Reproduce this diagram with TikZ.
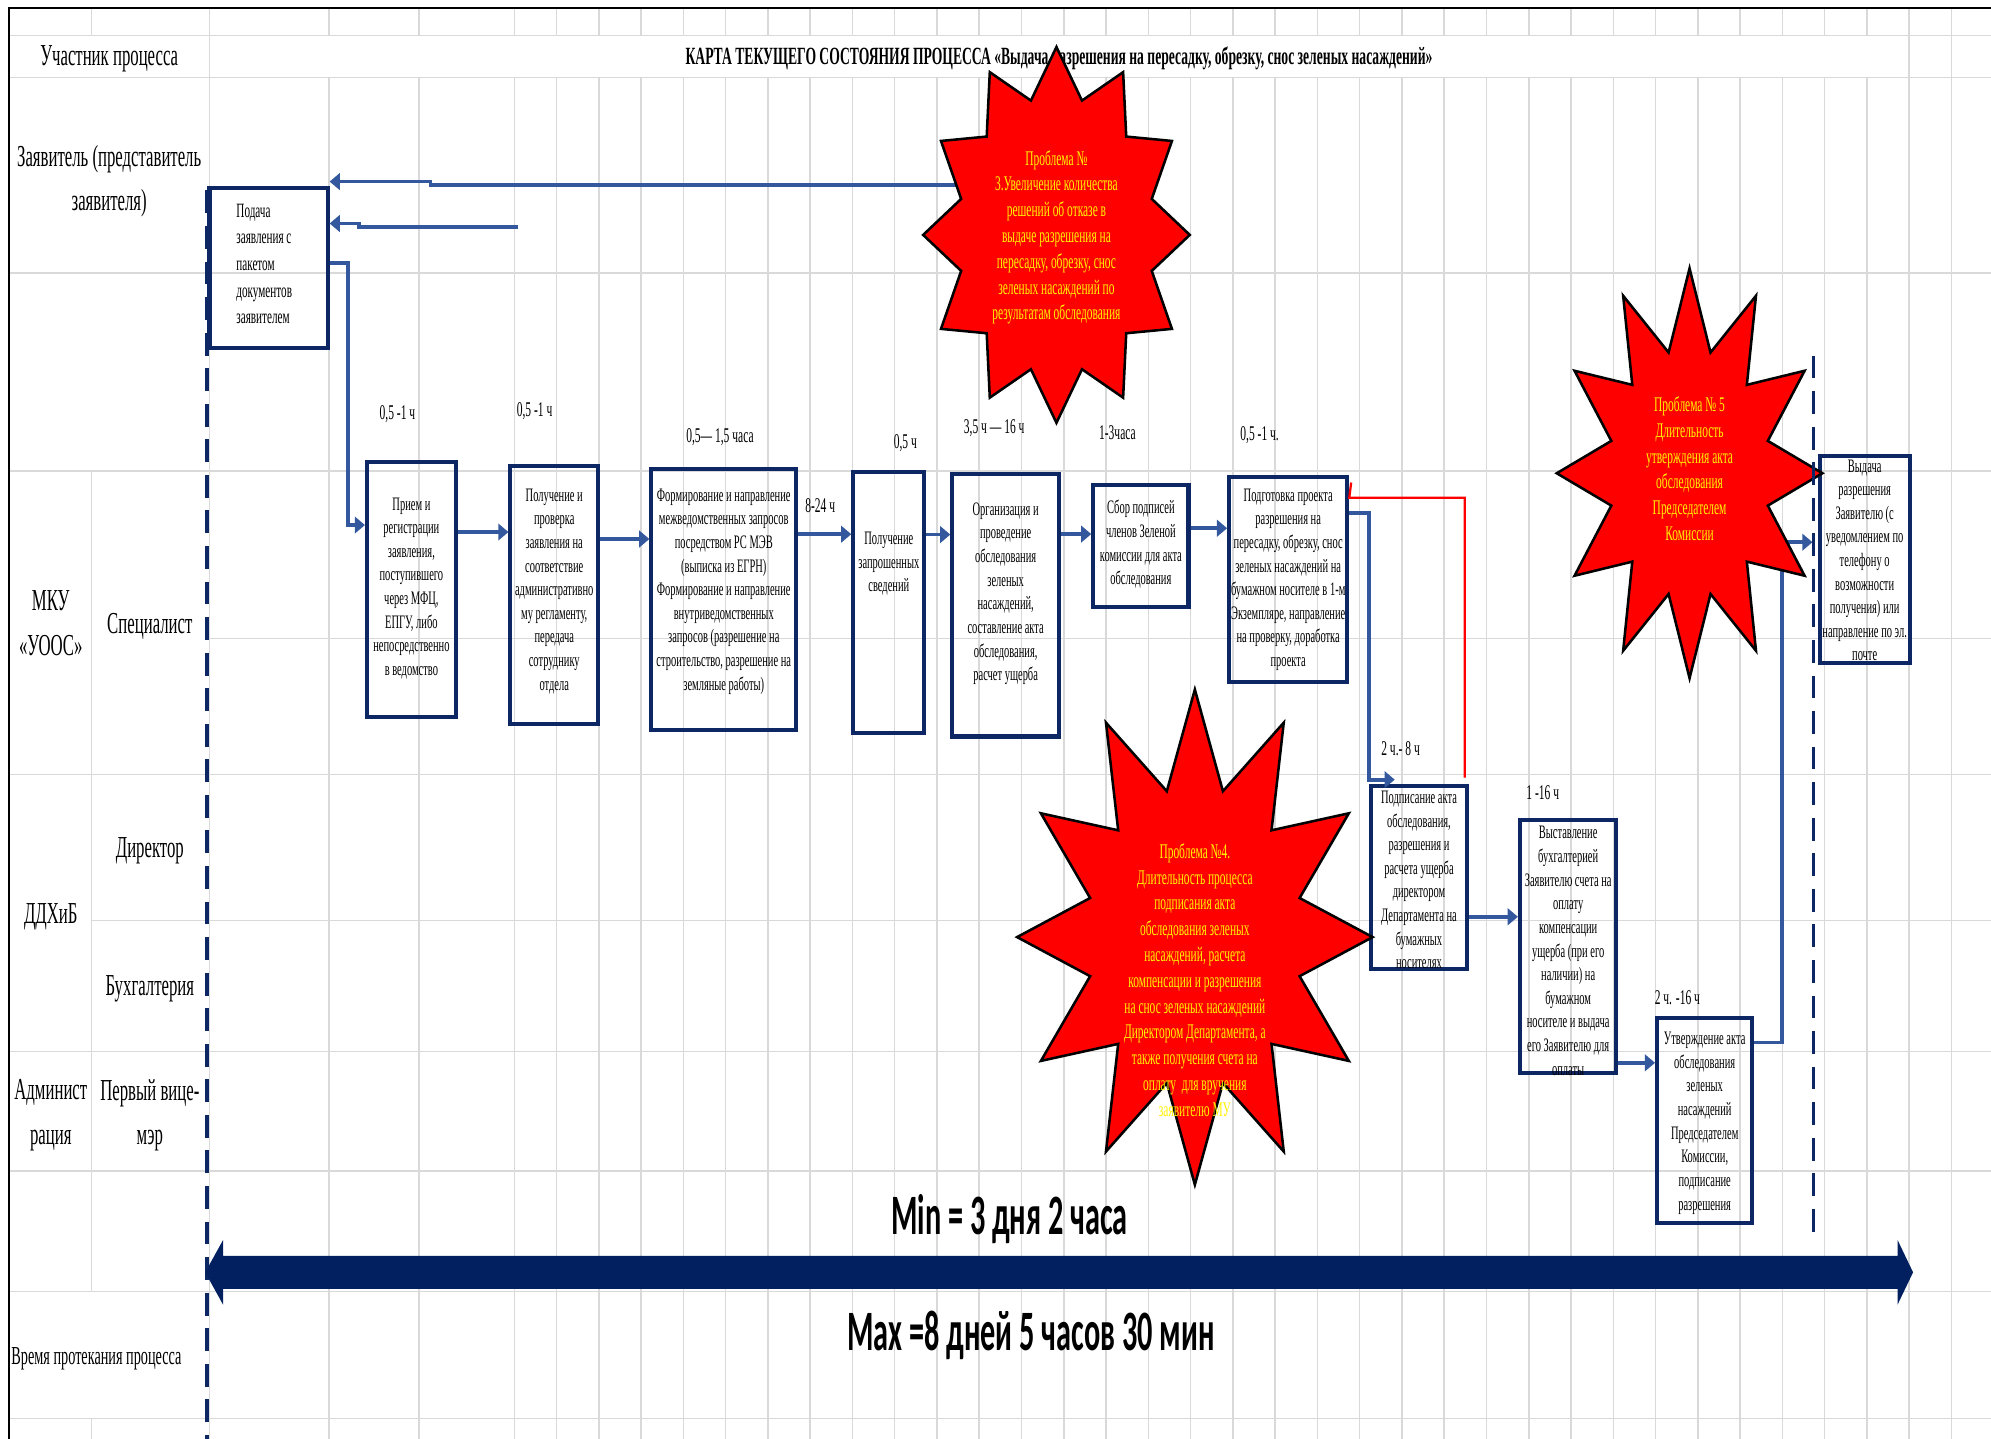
\documentclass[tikz,border=0pt]{standalone}
\usepackage{fontspec}
\setmainfont{Liberation Serif}
\newfontfamily\cnd[FakeStretch=0.55]{Liberation Serif}
\newfontfamily\mmf[FakeStretch=0.53]{Carlito}
\usetikzlibrary{arrows.meta}
\definecolor{gridc}{RGB}{217,217,217}
\definecolor{boxc}{RGB}{13,38,100}
\definecolor{arrc}{RGB}{52,88,158}
\definecolor{bigc}{RGB}{2,32,96}
\newcommand\burst[5]{%
  \draw[starst] plot[samples at={0,...,23}, variable=\k]
    ({#1+ifthenelse(mod(\k,2)==0,1,#5)*#3*sin(\k*15)},
     {#2-ifthenelse(mod(\k,2)==0,1,#5)*#4*cos(\k*15)}) -- cycle;}
\begin{document}
\begin{tikzpicture}[x=1pt,y=-1pt,
  gridl/.style={draw=gridc, line width=1.2pt},
  pbox/.style={draw=boxc, line width=3.2pt, inner sep=0pt},
  btxt/.style={font=\cnd\fontsize{15}{18.6}\selectfont, align=center, inner sep=0pt, anchor=north,
     execute at begin node={\rule{0pt}{0.75em}}},
  stxt/.style={font=\cnd\fontsize{16.4}{20.3}\selectfont, text=yellow, align=center, inner sep=0pt, anchor=north,
     execute at begin node={\rule{0pt}{0.75em}}},
  lbl/.style={font=\cnd\fontsize{16.5}{18}\selectfont, inner sep=0pt},
  hd/.style={font=\cnd\fontsize{24}{35}\selectfont, align=center, inner sep=0pt},
  hdn/.style={hd, anchor=north, execute at begin node={\rule{0pt}{0.75em}}},
  conn/.style={draw=arrc, line width=3pt, line join=miter, -{Triangle[length=8pt,width=13pt]}},
  fbk/.style={draw=red, line width=1.8pt},
  dsh/.style={draw=boxc, line width=2.5pt, dash pattern=on 18pt off 10pt},
  starst/.style={fill=red, draw=black, line width=2pt, line join=miter},
  mm/.style={font=\mmf\bfseries\fontsize{45}{50}\selectfont, inner sep=0pt}
]
\useasboundingbox (0,0) rectangle (1568,1133);
\fill[white] (0,0) rectangle (1568,1133);
% ---------- grid ----------
\foreach \x in {259,330} {
  \draw[gridl] (\x,6) -- (\x,28); \draw[gridl] (\x,61) -- (\x,1133);}
\foreach \k in {0,...,32} {
  \draw[gridl] ({405+\k*33.29},6) -- ({405+\k*33.29},28);
  \draw[gridl] ({405+\k*33.29},61) -- ({405+\k*33.29},1133);}
\foreach \x in {165,1503.6,1536.9} {\draw[gridl] (\x,6) -- (\x,1133);}
\draw[gridl] (72,6) -- (72,28);
\draw[gridl] (72,371) -- (72,1017);
\draw[gridl] (72,1117) -- (72,1133);
\foreach \y in {28,61,215,371,610,828,922,1017,1117} {\draw[gridl] (7,\y) -- (1568,\y);}
\draw[gridl] (165,503) -- (1568,503);
\draw[gridl] (72,725) -- (1568,725);
\draw[black, line width=1.5pt] (7,1133) -- (7,6) -- (1568,6);
% ---------- header texts ----------
\node[hd] (h0) at (86,46) {Участник процесса};
\node[font=\cnd\bfseries\fontsize{19.5}{22}\selectfont, inner sep=0pt] (title) at (834,46)
  {КАРТА ТЕКУЩЕГО СОСТОЯНИЯ ПРОЦЕССА «Выдача разрешения на пересадку, обрезку, снос зеленых насаждений»};
\node[hdn] (h1) at (86,114) {Заявитель (представитель\\заявителя)};
\node[hdn] (h2) at (40,465) {МКУ\\«УООС»};
\node[hd] (h3) at (118,493) {Специалист};
\node[hd] (h4) at (118,670) {Директор};
\node[hd] (h5) at (118,779) {Бухгалтерия};
\node[hd] (h6) at (40,722) {ДДХиБ};
\node[hdn] (h7) at (40,850) {Админист\\рация};
\node[hdn] (h8) at (118,850) {Первый вице-\\мэр};
\node[font=\cnd\fontsize{20.4}{22}\selectfont, inner sep=0pt] (h9) at (76,1070) {Время протекания процесса};
% ---------- boxes ----------
\node[pbox, minimum width=93pt, minimum height=126pt] (b1) at (211.5,211) {};
\node[pbox, minimum width=70pt, minimum height=201pt] (b2) at (324,464.5) {};
\node[pbox, minimum width=69pt, minimum height=203pt] (b3) at (436.5,468.5) {};
\node[pbox, minimum width=114pt, minimum height=206pt] (b4) at (570,472) {};
\node[pbox, minimum width=56pt, minimum height=205pt] (b5) at (700,474.5) {};
\node[pbox, minimum width=84pt, minimum height=207pt] (b6) at (792,476.5) {};
\node[pbox, minimum width=75pt, minimum height=96pt] (b7) at (898.5,430) {};
\node[pbox, minimum width=93pt, minimum height=161pt] (b8) at (1014.5,456.5) {};
\node[pbox, minimum width=75pt, minimum height=144pt] (b9) at (1117.5,691) {};
\node[pbox, minimum width=76pt, minimum height=199pt] (b10) at (1235,745.5) {};
\node[pbox, minimum width=75pt, minimum height=161pt] (b11) at (1342.5,882.5) {};
\node[pbox, minimum width=71pt, minimum height=163pt] (b12) at (1468.5,440.5) {};
% ---------- box texts ----------
\node[btxt, font=\cnd\fontsize{16}{21}\selectfont, align=left, anchor=north west] (t1) at (186,160.3)
  {Подача\\заявления с\\пакетом\\документов\\заявителем};
\node[btxt] (t2) at (324,391.7) {Прием и\\регистрации\\заявления,\\поступившего\\через МФЦ,\\ЕПГУ, либо\\непосредственно\\в ведомство};
\node[btxt] (t3) at (436.5,384.7) {Получение и\\проверка\\заявления на\\соответствие\\административно\\му регламенту,\\передача\\сотруднику\\отдела};
\node[btxt] (t4) at (570,384.7) {Формирование и направление\\межведомственных запросов\\посредством РС МЭВ\\(выписка из ЕГРН)\\Формирование и направление\\внутриведомственных\\запросов (разрешение на\\строительство, разрешение на\\земляные работы)};
\node[btxt] (t5) at (700,418.7) {Получение\\запрошенных\\сведений};
\node[btxt] (t6) at (792,395.7) {Организация и\\проведение\\обследования\\зеленых\\насаждений,\\составление акта\\обследования,\\расчет ущерба};
\node[btxt] (t7) at (898.5,393.7) {Сбор подписей\\членов Зеленой\\комиссии для акта\\обследования};
\node[btxt] (t8) at (1014.5,384.7) {Подготовка проекта\\разрешения на\\пересадку, обрезку, снос\\зеленых насаждений на\\бумажном носителе в 1-м\\Экземпляре, направление\\на проверку, доработка\\проекта};
\begin{scope}
\clip (b9.north west) rectangle (b9.south east);
\node[btxt] (t9) at (1117.5,622.7) {Подписание акта\\обследования,\\разрешения и\\расчета ущерба\\директором\\Департамента на\\бумажных\\носителях};
\end{scope}
\node[btxt] (t10) at (1235,650.7) {Выставление\\бухгалтерией\\Заявителю счета на\\оплату\\компенсации\\ущерба (при его\\наличии) на\\бумажном\\носителе и выдача\\его Заявителю для\\оплаты};
\node[btxt] (t11) at (1342.5,812.7) {Утверждение акта\\обследования\\зеленых\\насаждений\\Председателем\\Комиссии,\\подписание\\разрешения};
\node[btxt] (t12) at (1468.5,361.7) {Выдача\\разрешения\\Заявителю (с\\уведомлением по\\телефону о\\возможности\\получения) или\\направление по эл.\\почте};
% ---------- time labels ----------
\node[lbl] (l1) at (313,326) {0,5 -1 ч};
\node[lbl] (l2) at (421,324) {0,5 -1 ч};
\node[lbl] (l3) at (567,344) {0,5— 1,5 часа};
\node[lbl] (l4) at (646,398) {8-24 ч};
\node[lbl] (l5) at (713,349) {0,5 ч};
\node[lbl] (l6) at (783,337) {3,5 ч — 16 ч};
\node[lbl] (l7) at (880,341) {1-3часа};
\node[lbl] (l8) at (992,343) {0,5 -1 ч.};
\node[lbl] (l9) at (1103,590) {2 ч.- 8 ч};
\node[lbl] (l10) at (1215,624) {1 -16 ч};
\node[lbl] (l11) at (1321,786) {2 ч. -16 ч};
% ---------- connectors ----------
\coordinate (q0) at (408,178.5);
\coordinate (q1) at (755,146);
\draw[conn] (q1) -- ++(-416,0) -- ++(0,-3) -- (b1.east |- 0,143);
\draw[conn] (q0) -- ++(-125,0) -- ++(0,-2.5) -- (b1.east |- 0,176);
\draw[conn] (b1.east |- 0,207) -- ++(14.5,0) |- (b2.west |- 0,413.5);
\draw[conn] (b2.east |- 0,419) -- (b3.west |- 0,419);
\draw[conn] (b3.east |- 0,424.5) -- (b4.west |- 0,424.5);
\draw[conn] (b4.east |- 0,420.7) -- (b5.west |- 0,420.7);
\draw[conn] (b5.east |- 0,421) -- (b6.west |- 0,421);
\draw[conn] (b6.east |- 0,420.6) -- (b7.west |- 0,420.6);
\draw[conn] (b7.east |- 0,416) -- (b8.west |- 0,416);
\draw[conn] (b8.east |- 0,404) -| (b9.west |- 0,614) -- ++(20,0);
\draw[fbk] ([xshift=-3pt,yshift=5pt]b9.north east) |- (b8.east |- 0,392) -- ++(1.5,-12);
\draw[conn] (b9.east |- 0,722) -- (b10.west |- 0,722);
\draw[conn] (b10.east |- 0,837) -- (b11.west |- 0,837);
\draw[conn, shorten >=4pt] (b11.east |- 0,821) -- ++(22,0) |- (b12.west |- 0,427);
% ---------- stars ----------
\burst{832}{185}{105}{148}{0.74}
\burst{941}{738}{140}{195}{0.61}
\burst{1330.6}{372.7}{104.6}{161.4}{0.61}
\node[stxt] (p3) at (832,118.1) {Проблема №\\3.Увеличение количества\\решений об отказе в\\выдаче разрешения на\\пересадку, обрезку, снос\\зеленых насаждений по\\результатам обследования};
\node[stxt] (p4) at (941,664.1) {Проблема №4.\\Длительность процесса\\подписания акта\\обследования зеленых\\насаждений, расчета\\компенсации и разрешения\\на снос зеленых насаждений\\Директором Департамента, а\\также получения счета на\\оплату \ для вручения\\заявителю МУ};
\node[stxt] (p5) at (1330.6,312.1) {Проблема № 5\\Длительность\\утверждения акта\\обследования\\Председателем\\Комиссии};
% ---------- dashed boundaries ----------
\coordinate (d1a) at (163,150); \coordinate (d1b) at (163,1133);
\coordinate (d2a) at (1428,280); \coordinate (d2b) at (1428,978);
\draw[dsh] (d1a) -- (d1b);
\draw[dsh] (d2a) -- (d2b);
% ---------- time arrow ----------
\fill[bigc] (161.6,1002) -- (175.7,976.5) -- (175.7,989) -- (1494.4,989) -- (1494.4,976.5)
  -- (1506.6,1002) -- (1494.4,1027.5) -- (1494.4,1015) -- (175.7,1015) -- (175.7,1027.5) -- cycle;
\node[mm] (mn) at (795,960) {Min = 3 дня 2 часа};
\node[mm] (mx) at (812,1052) {Max =8 дней 5 часов 30 мин};
\end{tikzpicture}
\end{document}
